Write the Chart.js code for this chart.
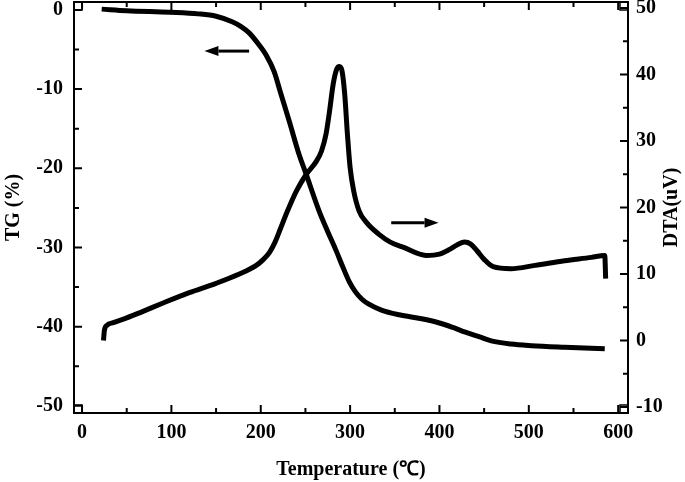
<!DOCTYPE html>
<html>
<head>
<meta charset="utf-8">
<script src="https://cdn.jsdelivr.net/npm/chart.js@4/dist/chart.umd.min.js"></script>
<style>
  html, body { margin: 0; padding: 0; background: #fff; }
  canvas { display: block; }
</style>
</head>
<body>
<canvas id="tgdta" width="685" height="482"></canvas>
<script>
// TG curve (left axis)
const tempTG = [22, 50, 98, 130, 150, 168, 178, 187, 198, 206, 215, 222, 232, 243, 251, 265, 275, 284, 292, 299, 306, 313, 320, 335, 355, 380, 399, 415, 429, 445, 458, 480, 503, 540, 585];
const valeursTG = [0.1, -0.1, -0.3, -0.5, -0.8, -1.5, -2.1, -2.9, -4.4, -5.7, -7.8, -10.4, -14.1, -18.3, -20.8, -25.3, -28, -30.3, -32.5, -34.3, -35.6, -36.5, -37.1, -37.9, -38.5, -39, -39.5, -40.1, -40.7, -41.3, -41.8, -42.2, -42.4, -42.6, -42.8];

// DTA curve (right axis)
const tempDTA = [24, 25, 28, 35, 50, 65, 90, 120, 150, 176, 195, 203, 210, 216, 222, 230, 240, 251, 262, 268, 273, 277, 281, 285, 288, 291, 294, 297, 300, 304, 310, 318, 332, 345, 360, 385, 400, 410, 420, 428, 435, 442, 450, 460, 480, 507, 540, 570, 585, 586];
const valeursDTA = [0, 1.5, 2.3, 2.7, 3.4, 4.2, 5.6, 7.2, 8.6, 10, 11.3, 12.2, 13.3, 14.8, 16.8, 19.5, 22.5, 25, 26.9, 28.5, 31, 34.5, 38.5, 40.8, 41.2, 40.5, 37, 31, 26, 22.5, 19.5, 17.8, 16, 14.8, 14, 12.8, 13, 13.6, 14.4, 14.8, 14.5, 13.5, 12.2, 11.1, 10.8, 11.3, 12, 12.5, 12.8, 9.3];

// tick labels
const ticksX = [0, 100, 200, 300, 400, 500, 600];
const ticksTG = [-50, -40, -30, -20, -10, 0];
const ticksDTA = [-10, 0, 10, 20, 30, 40, 50];

// arrows: [x start, x end, y]
const flecheTG = [187, 137, -5.2];
const flecheDTA = [346, 399, 17.7];

const police = { family: "'Liberation Serif', 'Times New Roman', serif", weight: 'bold', size: 20 };

function pointsDe(xs, ys) {
  return xs.map((x, i) => ({ x: x, y: ys[i] }));
}

function milieux(t) {
  const res = [];
  for (let i = 0; i < t.length - 1; i++) res.push((t[i] + t[i + 1]) / 2);
  return res;
}

function fleche(ctx, x1, x2, y) {
  const dir = Math.sign(x2 - x1);
  const tete = 14;
  ctx.beginPath();
  ctx.moveTo(x1, y);
  ctx.lineTo(x2 - dir * tete, y);
  ctx.lineWidth = 3;
  ctx.stroke();
  ctx.beginPath();
  ctx.moveTo(x2, y);
  ctx.lineTo(x2 - dir * tete, y - 5);
  ctx.lineTo(x2 - dir * tete, y + 5);
  ctx.closePath();
  ctx.fill();
}

const cadre = {
  id: 'cadre',
  afterDatasetsDraw(chart) {
    const ctx = chart.ctx;
    const a = chart.chartArea;
    const sx = chart.scales.x, sl = chart.scales.yTG, sr = chart.scales.yDTA;
    ctx.save();
    ctx.strokeStyle = '#000';
    ctx.fillStyle = '#000';
    ctx.lineWidth = 2;
    ctx.strokeRect(a.left, a.top, a.right - a.left, a.bottom - a.top);

    // inward ticks
    ctx.beginPath();
    const tickX = (v, len) => {
      const p = sx.getPixelForValue(v);
      ctx.moveTo(p, a.bottom); ctx.lineTo(p, a.bottom - len);
      ctx.moveTo(p, a.top); ctx.lineTo(p, a.top + len);
    };
    ticksX.forEach(v => tickX(v, 8));
    milieux(ticksX).forEach(v => tickX(v, 5));
    const tickL = (v, len) => {
      const p = sl.getPixelForValue(v);
      ctx.moveTo(a.left, p); ctx.lineTo(a.left + len, p);
    };
    ticksTG.forEach(v => tickL(v, 8));
    milieux(ticksTG).forEach(v => tickL(v, 5));
    const tickR = (v, len) => {
      const p = sr.getPixelForValue(v);
      ctx.moveTo(a.right, p); ctx.lineTo(a.right - len, p);
    };
    ticksDTA.forEach(v => tickR(v, 8));
    milieux(ticksDTA).forEach(v => tickR(v, 5));
    ctx.stroke();

    // small corner squares
    ctx.lineWidth = 1.5;
    const c = 8;
    ctx.strokeRect(a.left, a.top, c, c);
    ctx.strokeRect(a.left, a.bottom - c, c, c);
    ctx.strokeRect(a.right - c, a.top, c, c);
    ctx.strokeRect(a.right - c, a.bottom - c, c, c);

    // arrows
    fleche(ctx, sx.getPixelForValue(flecheTG[0]), sx.getPixelForValue(flecheTG[1]), sl.getPixelForValue(flecheTG[2]));
    fleche(ctx, sx.getPixelForValue(flecheDTA[0]), sx.getPixelForValue(flecheDTA[1]), sr.getPixelForValue(flecheDTA[2]));

    // right axis title, reading upward
    ctx.translate(672, (a.top + a.bottom) / 2);
    ctx.rotate(-Math.PI / 2);
    ctx.font = 'bold 20px ' + police.family;
    ctx.textAlign = 'center';
    ctx.textBaseline = 'middle';
    ctx.fillText('DTA(uV)', 0, 0);
    ctx.restore();
  }
};

const sansPaddingY = (s, w) => { s.width = w; s.paddingTop = 0; s.paddingBottom = 0; };

const ctx = document.getElementById('tgdta').getContext('2d');
new Chart(ctx, {
  type: 'line',
  data: {
    datasets: [
      {
        label: 'TG',
        data: pointsDe(tempTG, valeursTG),
        yAxisID: 'yTG',
        borderColor: '#000',
        borderWidth: 5,
        pointRadius: 0,
        cubicInterpolationMode: 'monotone'
      },
      {
        label: 'DTA',
        data: pointsDe(tempDTA, valeursDTA),
        yAxisID: 'yDTA',
        borderColor: '#000',
        borderWidth: 5,
        pointRadius: 0,
        cubicInterpolationMode: 'monotone'
      }
    ]
  },
  options: {
    responsive: false,
    animation: false,
    layout: { padding: { top: 2, left: 0, right: 0, bottom: 0 } },
    plugins: { legend: { display: false }, tooltip: { enabled: false } },
    scales: {
      x: {
        type: 'linear',
        min: -9,
        max: 611,
        grid: { display: false, drawTicks: false },
        border: { display: false },
        afterBuildTicks: s => { s.ticks = ticksX.map(v => ({ value: v })); },
        afterFit: s => { s.height = 69; s.paddingLeft = 0; s.paddingRight = 0; },
        ticks: { color: '#000', font: police, padding: 8, maxRotation: 0 },
        title: { display: true, text: 'Temperature (℃)', color: '#000', font: police, padding: { top: 4, bottom: 0 } }
      },
      yTG: {
        type: 'linear',
        position: 'left',
        min: -50.9,
        max: 1,
        grid: { display: false, drawTicks: false },
        border: { display: false },
        afterBuildTicks: s => { s.ticks = ticksTG.map(v => ({ value: v })); },
        afterFit: s => sansPaddingY(s, 74),
        ticks: { color: '#000', font: police, padding: 11 },
        title: { display: true, text: 'TG (%)', color: '#000', font: police, padding: { top: 2, bottom: 0 } }
      },
      yDTA: {
        type: 'linear',
        position: 'right',
        min: -10.9,
        max: 50.9,
        grid: { display: false, drawTicks: false },
        border: { display: false },
        afterBuildTicks: s => { s.ticks = ticksDTA.map(v => ({ value: v })); },
        afterFit: s => sansPaddingY(s, 57),
        ticks: { color: '#000', font: police, padding: 8 }
      }
    }
  },
  plugins: [cadre]
});
</script>
</body>
</html>
